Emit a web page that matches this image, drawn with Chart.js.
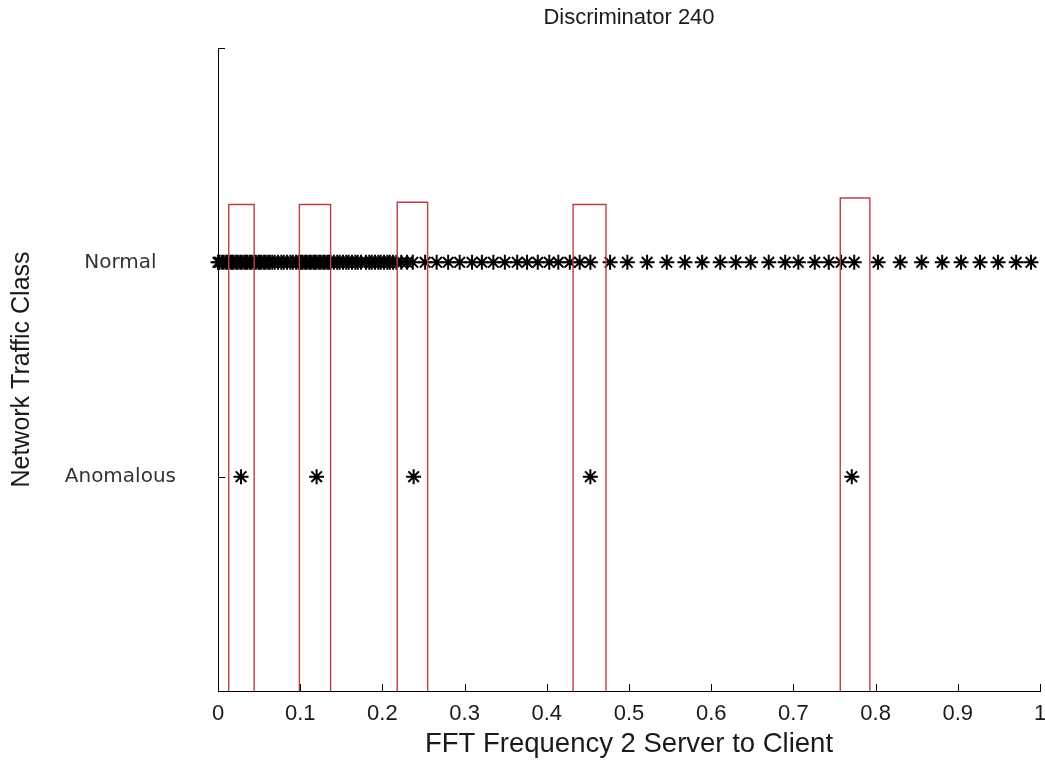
<!DOCTYPE html>
<html>
<head>
<meta charset="utf-8">
<script src="https://cdn.jsdelivr.net/npm/chart.js@4/dist/chart.umd.min.js"></script>
<style>
  html, body { margin: 0; padding: 0; background: #ffffff; }
  #c { display: block; }
</style>
</head>
<body>
<canvas id="c" width="1045" height="761"></canvas>
<script>
// Class labels on the y axis (Anomalous = 0, Normal = 1)
const classNames = ['Anomalous', 'Normal'];
const yTickValues = [0, 1];
const xTickValues = [0, 0.1, 0.2, 0.3, 0.4, 0.5, 0.6, 0.7, 0.8, 0.9, 1];

// FFT frequency 2 (server to client) of the normal traffic samples
const normalFreq = [
  0, 0.002, 0.005, 0.007, 0.010, 0.012, 0.015, 0.017, 0.019, 0.022, 0.024, 0.027, 0.029, 0.032,
  0.034, 0.036, 0.039, 0.041, 0.044, 0.046, 0.049, 0.051, 0.053, 0.056, 0.058, 0.061, 0.063,
  0.066, 0.069, 0.073, 0.077, 0.080, 0.084, 0.088, 0.091, 0.095,
  0.098, 0.101, 0.103, 0.106, 0.108, 0.111, 0.113, 0.116, 0.118, 0.120, 0.123, 0.125, 0.128,
  0.130, 0.133, 0.135, 0.137,
  0.141, 0.145, 0.148, 0.152, 0.156, 0.159, 0.163, 0.167, 0.170, 0.174,
  0.180, 0.184, 0.187, 0.191, 0.195, 0.198, 0.202, 0.206, 0.209, 0.213, 0.217,
  0.223, 0.230, 0.237, 0.252, 0.266, 0.280, 0.294, 0.309, 0.321, 0.335, 0.349, 0.364, 0.376,
  0.389, 0.403, 0.414, 0.428, 0.440, 0.453, 0.477, 0.498, 0.522, 0.546, 0.568, 0.589, 0.611,
  0.630, 0.648, 0.670, 0.690, 0.706, 0.726, 0.743, 0.758, 0.774, 0.803, 0.830, 0.856, 0.881,
  0.904, 0.927, 0.949, 0.971, 0.989
];

// FFT frequency 2 of the anomalous samples
const anomalousFreq = [0.028, 0.120, 0.238, 0.453, 0.771];

// Discriminator windows around each anomaly
const boxLeft  = [0.013, 0.099, 0.218, 0.432, 0.757];
const boxRight = [0.044, 0.137, 0.255, 0.472, 0.793];
const boxTop   = [1.27, 1.27, 1.28, 1.27, 1.30];

const Y_MIN = -1, Y_MAX = 2;

const markerStyle = {
  showLine: false,
  pointStyle: 'star',
  pointRadius: 7.5,
  pointBorderWidth: 2,
  pointBorderColor: '#000000',
  pointBackgroundColor: '#000000',
  clip: false,
  order: 2
};

const datasets = [
  Object.assign({ label: 'Normal', data: normalFreq.map(v => ({ x: v, y: 1 })) }, markerStyle),
  Object.assign({ label: 'Anomalous', data: anomalousFreq.map(v => ({ x: v, y: 0 })) }, markerStyle)
];

boxLeft.forEach((l, i) => {
  datasets.push({
    label: 'Window ' + (i + 1),
    data: [
      { x: l, y: Y_MIN },
      { x: l, y: boxTop[i] },
      { x: boxRight[i], y: boxTop[i] },
      { x: boxRight[i], y: Y_MIN }
    ],
    showLine: true,
    fill: false,
    tension: 0,
    borderColor: '#bb3f48',
    borderWidth: 1.4,
    pointRadius: 0,
    clip: false,
    order: 0
  });
});

// Short tick marks drawn inside the plot area
const inwardTicks = {
  id: 'inwardTicks',
  beforeDatasetsDraw(chart) {
    const { ctx, chartArea: a, scales: { x, y } } = chart;
    ctx.save();
    ctx.strokeStyle = '#000000';
    ctx.lineWidth = 1;
    ctx.beginPath();
    x.ticks.forEach(t => {
      const px = Math.round(x.getPixelForValue(t.value)) + 0.5;
      ctx.moveTo(px, a.bottom);
      ctx.lineTo(px, a.bottom - 7);
    });
    y.ticks.forEach(t => {
      const py = Math.round(y.getPixelForValue(t.value)) + 0.5;
      ctx.moveTo(a.left, py);
      ctx.lineTo(a.left + 7, py);
    });
    const top = Math.round(y.getPixelForValue(Y_MAX)) + 0.5;
    ctx.moveTo(a.left, top);
    ctx.lineTo(a.left + 7, top);
    ctx.stroke();
    ctx.restore();
  }
};

new Chart(document.getElementById('c'), {
  type: 'scatter',
  data: { datasets },
  plugins: [inwardTicks],
  options: {
    responsive: false,
    animation: false,
    devicePixelRatio: 1,
    layout: { autoPadding: false, padding: { top: 0, right: 5, bottom: 0, left: 0 } },
    plugins: {
      legend: { display: false },
      tooltip: { enabled: false },
      title: {
        display: true,
        text: 'Discriminator 240',
        fullSize: false,
        color: '#1a1a1a',
        font: { family: '"Liberation Sans", Arial, sans-serif', size: 22, weight: 'normal' },
        padding: { top: 5, bottom: 16.6 }
      }
    },
    scales: {
      x: {
        type: 'linear',
        min: 0,
        max: 1,
        afterBuildTicks: s => { s.ticks = xTickValues.map(v => ({ value: v })); },
        afterFit: s => { s.height = 70; s.paddingLeft = 0; s.paddingRight = 0; },
        grid: { display: true, drawOnChartArea: false, drawTicks: false },
        border: { display: true, color: '#000000', width: 1 },
        ticks: {
          padding: 10,
          color: '#1a1a1a',
          maxRotation: 0,
          autoSkip: false,
          font: { family: '"Liberation Sans", Arial, sans-serif', size: 22 },
          callback: v => String(v)
        },
        title: {
          display: true,
          text: 'FFT Frequency 2 Server to Client',
          color: '#1a1a1a',
          font: { family: '"Liberation Sans", Arial, sans-serif', size: 27.5 },
          padding: { top: 0, bottom: 0 }
        }
      },
      y: {
        type: 'linear',
        min: Y_MIN,
        max: Y_MAX,
        afterBuildTicks: s => { s.ticks = yTickValues.map(v => ({ value: v })); },
        afterFit: s => { s.width = 218; s.paddingTop = 0; s.paddingBottom = 0; },
        grid: { display: true, drawOnChartArea: false, drawTicks: false },
        border: { display: true, color: '#000000', width: 1 },
        ticks: {
          padding: 42,
          crossAlign: 'center',
          color: '#333333',
          font: { family: '"DejaVu Sans", Verdana, sans-serif', size: 20 },
          callback: v => classNames[v] !== undefined ? classNames[v] : ''
        },
        title: {
          display: true,
          text: 'Network Traffic Class',
          color: '#1a1a1a',
          font: { family: '"Liberation Sans", Arial, sans-serif', size: 25 },
          padding: { top: 7, bottom: 0 }
        }
      }
    }
  }
});
</script>
</body>
</html>
